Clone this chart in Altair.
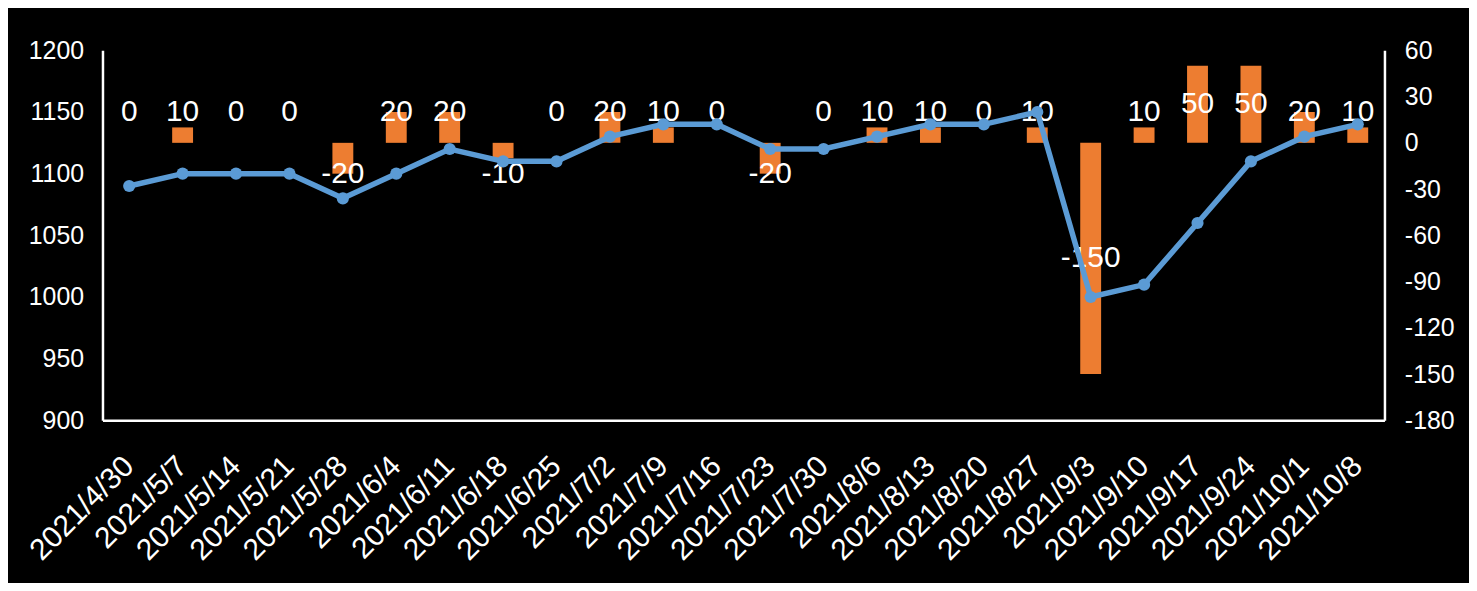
import altair as alt
import pandas as pd

dates = ["2021/4/30", "2021/5/7", "2021/5/14", "2021/5/21", "2021/5/28", "2021/6/4",
         "2021/6/11", "2021/6/18", "2021/6/25", "2021/7/2", "2021/7/9", "2021/7/16",
         "2021/7/23", "2021/7/30", "2021/8/6", "2021/8/13", "2021/8/20", "2021/8/27",
         "2021/9/3", "2021/9/10", "2021/9/17", "2021/9/24", "2021/10/1", "2021/10/8"]
price = [1090, 1100, 1100, 1100, 1080, 1100, 1120, 1110, 1110, 1130, 1140, 1140,
         1120, 1120, 1130, 1140, 1140, 1150, 1000, 1010, 1060, 1110, 1130, 1140]
change = [0, 10, 0, 0, -20, 20, 20, -10, 0, 20, 10, 0,
          -20, 0, 10, 10, 0, 10, -150, 10, 50, 50, 20, 10]
left_ticks = [900, 950, 1000, 1050, 1100, 1150, 1200]
right_ticks = [-180, -150, -120, -90, -60, -30, 0, 30, 60]

df = pd.DataFrame({"date": dates, "price": price, "change": change})

FONT = "Liberation Sans"
LINE_C = "#5B9BD5"
BAR_C = "#ED7D31"

x_enc = alt.X("date:N", sort=None, title=None,
              scale=alt.Scale(paddingInner=0, paddingOuter=0),
              axis=alt.Axis(labelAngle=-45, labelAlign="right", labelBaseline="middle",
                            labelPadding=41, labelFontSize=30, labelColor="white",
                            labelFont=FONT, labelOverlap=False, labelLimit=400,
                            ticks=False, domainColor="white", domainWidth=2.5,
                            grid=False))

right_scale = alt.Scale(domain=[-180, 60], nice=False, zero=False)

bars = alt.Chart(df).mark_bar(color=BAR_C, size=21).encode(
    x=x_enc,
    y=alt.Y("change:Q", scale=right_scale, title=None,
            axis=alt.Axis(orient="right", values=right_ticks, labelExpr="'' + datum.value",
                          labelPadding=20, labelFontSize=25, labelColor="white",
                          labelFont=FONT, ticks=False, grid=False,
                          domainColor="white", domainWidth=2.5)),
)

labels = alt.Chart(df).transform_calculate(
    labpos="datum.change >= 0 ? max(datum.change / 2, 20) : min(datum.change / 2, -20)",
    labtxt="'' + datum.change",
).mark_text(color="white", fontSize=30, font=FONT, align="center", baseline="middle").encode(
    x=x_enc,
    y=alt.Y("labpos:Q", scale=right_scale, axis=None),
    text=alt.Text("labtxt:N"),
)

line = alt.Chart(df).mark_line(color=LINE_C, strokeWidth=5.5,
                               point=alt.OverlayMarkDef(color=LINE_C, size=150, opacity=1)).encode(
    x=x_enc,
    y=alt.Y("price:Q", scale=alt.Scale(domain=[900, 1200], nice=False, zero=False), title=None,
            axis=alt.Axis(orient="left", values=left_ticks, labelExpr="'' + datum.value",
                          labelPadding=19, labelFontSize=25, labelColor="white",
                          labelFont=FONT, ticks=False, grid=False,
                          domainColor="white", domainWidth=2.5)),
)

chart = alt.layer(bars, labels, line).resolve_scale(y="independent").properties(
    width=1289, height=372,
    background="black",
    autosize=alt.AutoSizeParams(type="none"),
    padding={"left": 95, "top": 41, "right": 85, "bottom": 162},
).configure_view(stroke=None)

chart.save("out.html", embed_options={"renderer": "svg", "actions": False})
